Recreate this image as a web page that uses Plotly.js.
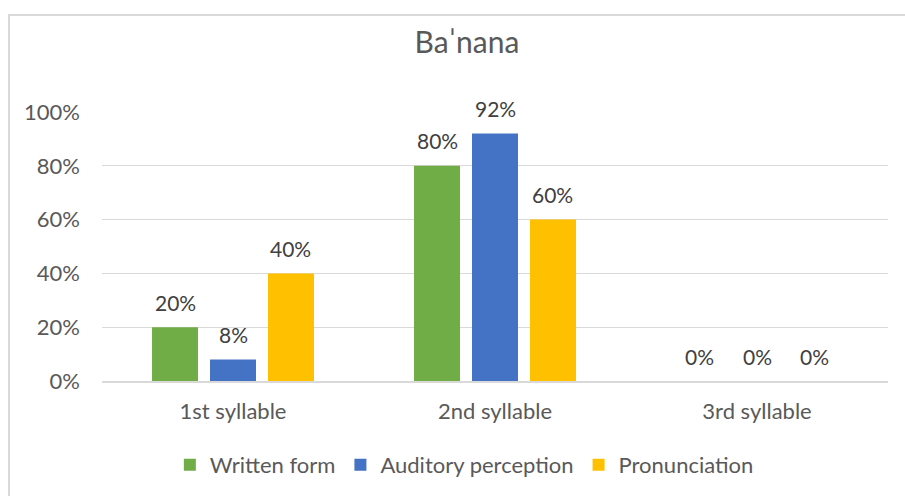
<!DOCTYPE html>
<html>
<head>
<meta charset="utf-8">
<script src="https://cdn.plot.ly/plotly-3.0.1.min.js"></script>
<style>
  html, body { margin: 0; padding: 0; background: #fff; }
  #wrap { position: relative; width: 905px; height: 496px; overflow: hidden; }
  #chart { position: absolute; left: 0; top: 0; width: 905px; height: 496px; }
  #frame { position: absolute; left: 8px; top: 14px; width: 1000px; height: 600px;
           border-left: 2px solid #d9d9d9; border-top: 2px solid #d9d9d9; pointer-events: none; }
</style>
</head>
<body>
<div id="wrap">
  <div id="chart"></div>
  <div id="frame"></div>
</div>
<script>
const categories = ["1st syllable", "2nd syllable", "3rd syllable"];
const seriesNames = ["Written form", "Auditory perception", "Pronunciation"];
const writtenForm = [0.20, 0.80, 0.00];
const auditoryPerception = [0.08, 0.92, 0.00];
const pronunciation = [0.40, 0.60, 0.00];
const seriesColors = ["#70AD47", "#4472C4", "#FFC000"];
const yTicks = [0, 0.2, 0.4, 0.6, 0.8, 1.0];

const FONT = "Lato, 'Noto Sans', sans-serif";
const allSeries = [writtenForm, auditoryPerception, pronunciation];
const BARGAP = 0.336;
const BARGROUPGAP = 0.207;

const traces = allSeries.map((vals, i) => ({
  type: "bar",
  name: seriesNames[i],
  x: categories,
  y: vals,
  marker: { color: seriesColors[i] },
  hoverinfo: "none"
}));

const annotations = [];
allSeries.forEach((vals, i) => {
  const n = allSeries.length;
  const offset = (i - (n - 1) / 2) * (1 - BARGAP) / n;
  vals.forEach((v, j) => {
    annotations.push({
      x: j + offset, y: v, xref: "x", yref: "y",
      text: Math.round(v * 100) + "%",
      showarrow: false, yanchor: "middle", yshift: 25,
      font: { family: FONT, size: 21, color: "#404040" }
    });
  });
});

const layout = {
  width: 905, height: 496,
  margin: { l: 102, r: 17, t: 112, b: 114 },
  paper_bgcolor: "#ffffff", plot_bgcolor: "#ffffff",
  title: {
    text: "Ba\u02C8nana",
    font: { family: FONT, size: 30, color: "#595959" },
    x: 467 / 905, xanchor: "center", xref: "container",
    y: 1 - 42 / 496, yanchor: "middle", yref: "container"
  },
  barmode: "group",
  bargap: BARGAP,
  bargroupgap: BARGROUPGAP,
  xaxis: {
    type: "category",
    showgrid: false, zeroline: false,
    showline: true, linecolor: "#d9d9d9", linewidth: 1.5,
    ticks: "", ticklabelstandoff: 10,
    tickfont: { family: FONT, size: 22, color: "#595959" }
  },
  yaxis: {
    range: [0, 1], tickvals: yTicks, tickformat: ".0%",
    showgrid: true, gridcolor: "#d9d9d9", gridwidth: 1,
    zeroline: false, showline: false, ticks: "", ticklabelstandoff: 21,
    tickfont: { family: FONT, size: 22, color: "#595959" }
  },
  showlegend: true,
  legend: {
    orientation: "h", x: 0.461, xanchor: "center", y: -0.307, yanchor: "middle",
    font: { family: FONT, size: 22, color: "#595959" },
    itemclick: false, itemdoubleclick: false
  },
  annotations: annotations
};

Plotly.newPlot("chart", traces, layout, { displayModeBar: false, staticPlot: true });
</script>
</body>
</html>
